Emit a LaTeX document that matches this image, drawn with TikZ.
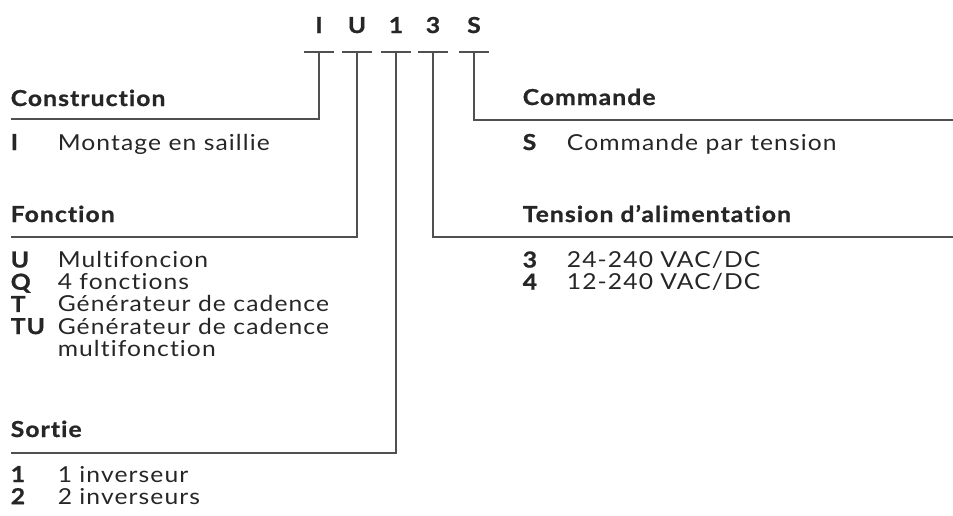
\documentclass[tikz,border=0pt]{standalone}
\usepackage{fontspec}
\setmainfont{Lato}[LetterSpace=5, FakeStretch=1.12, Ligatures={NoCommon}, BoldFeatures={FakeBold=1}]
\usetikzlibrary{positioning}
\definecolor{textMain}{RGB}{38, 38, 38}
\definecolor{lineGrey}{RGB}{80, 80, 80}

\begin{document}
\begin{tikzpicture}[
    x=0.75pt, y=-0.75pt,
    codeNode/.style={anchor=base, inner sep=0pt, text=textMain, font=\fontsize{16.5}{19}\selectfont\bfseries},
    headNode/.style={anchor=base west, inner sep=0pt, text=textMain, font=\fontsize{16.5}{19}\selectfont\bfseries},
    keyNode/.style={anchor=base west, inner sep=0pt, text=textMain, font=\fontsize{16.5}{19}\selectfont\bfseries},
    itemNode/.style={anchor=base west, inner sep=0pt, text=textMain, font=\fontsize{16.5}{19}\selectfont},
    tick/.style={draw=lineGrey, line width=1pt},
    link/.style={draw=lineGrey, line width=1pt}
  ]
    \useasboundingbox (0,0) rectangle (953,515);

    % Code letters
    \node[codeNode] (cI) at (319,33) {I};
    \node[codeNode] (cU) at (357,33) {U};
    \node[codeNode] (c1) at (396,33) {1};
    \node[codeNode] (c3) at (433,33) {3};
    \node[codeNode] (cS) at (474,33) {S};

    \foreach \n/\x in {I/319, U/357, 1/396, 3/433, S/474} {
      \coordinate (t\n) at (\x,52);
      \draw[tick] ([xshift=-11.3]t\n) -- ([xshift=11.3]t\n);
    }

    % Left column: Construction, Fonction, Sortie
    \node[headNode] (hCon) at (10.5,106) {Construction};
    \coordinate (lCon) at (10.5,119);
    \node[keyNode] (kI) at (10.5,150) {I};
    \node[itemNode] (dI) at (57.5,150) {Montage en saillie};

    \node[headNode] (hFon) at (10.5,222) {Fonction};
    \coordinate (lFon) at (10.5,237);
    \node[keyNode] (kU) at (10.5,267.5) {U};
    \node[itemNode] (dU) at (57.5,267.5) {Multifoncion};
    \node[keyNode] (kQ) at (10.5,289.7) {Q};
    \node[itemNode] (dQ) at (57.5,289.7) {4 fonctions};
    \node[keyNode] (kT) at (10.5,311.9) {T};
    \node[itemNode] (dT) at (57.5,311.9) {Générateur de cadence};
    \node[keyNode] (kTU) at (10.5,334.1) {TU};
    \node[itemNode] (dTU) at (57.5,334.1) {Générateur de cadence};
    \node[itemNode] (dTU2) at (57.5,356.3) {multifonction};

    \node[headNode] (hSor) at (10.5,437) {Sortie};
    \coordinate (lSor) at (10.5,453);
    \node[keyNode] (k1) at (10.5,482) {1};
    \node[itemNode] (d1) at (57.5,482) {1 inverseur};
    \node[keyNode] (k2) at (10.5,504.2) {2};
    \node[itemNode] (d2) at (57.5,504.2) {2 inverseurs};

    % Right column: Commande, Tension
    \node[headNode] (hCom) at (522.5,105) {Commande};
    \coordinate (lCom) at (953,120);
    \node[keyNode] (kS) at (522.5,150) {S};
    \node[itemNode] (dS) at (566.7,150) {Commande par tension};

    \node[headNode] (hTen) at (522.5,222) {Tension d’alimentation};
    \coordinate (lTen) at (953,237);
    \node[keyNode] (k3) at (522.5,267.5) {3};
    \node[itemNode] (d3) at (566.7,267.5) {24-240 VAC/DC};
    \node[keyNode] (k4) at (522.5,289.7) {4};
    \node[itemNode] (d4) at (566.7,289.7) {12-240 VAC/DC};

    % Leader lines
    \draw[link] (tI) |- (lCon);
    \draw[link] (tU) |- (lFon);
    \draw[link] (t1) |- (lSor);
    \draw[link] (t3) |- (lTen);
    \draw[link] (tS) |- (lCom);
  \end{tikzpicture}
\end{document}
